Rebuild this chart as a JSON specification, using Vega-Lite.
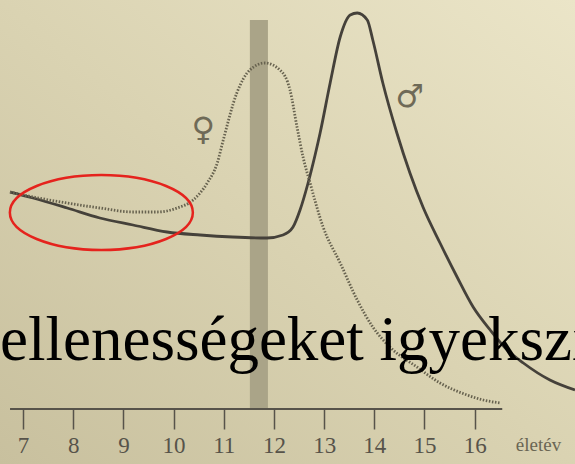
{
  "$schema": "https://vega.github.io/schema/vega-lite/v6.json",
  "width": 575,
  "height": 464,
  "padding": 0,
  "autosize": {"type": "none"},
  "background": "#d9d2b1",
  "config": {"view": {"stroke": null}},
  "layer": [
    {
      "data": {"values": [{"x0": 6.54, "x1": 18.0, "y0": -55, "y1": 409}]},
      "mark": {
        "type": "rect",
        "color": {
          "gradient": "linear",
          "x1": 0, "y1": 1, "x2": 1, "y2": 0,
          "stops": [
            {"offset": 0, "color": "#c8c09e"},
            {"offset": 0.5, "color": "#dad3b2"},
            {"offset": 1, "color": "#ebe5c8"}
          ]
        }
      },
      "encoding": {
        "x": {
          "field": "x0",
          "type": "quantitative",
          "scale": {"domain": [6.54, 18.0], "nice": false, "zero": false},
          "axis": {
            "values": [7, 8, 9, 10, 11, 12, 13, 14, 15, 16],
            "format": "d",
            "domain": false,
            "grid": false,
            "zindex": 1,
            "offset": -55,
            "tickSize": 20,
            "tickWidth": 1.5,
            "tickColor": "#57534a",
            "labelFont": "Liberation Serif",
            "labelFontSize": 23,
            "labelColor": "#57534a",
            "labelPadding": 5,
            "labelFlush": false,
            "labelOverlap": false,
            "title": "életév",
            "titleX": 538,
            "titleY": 41,
            "titleAngle": 0,
            "titleAlign": "center",
            "titleBaseline": "alphabetic",
            "titleFont": "Liberation Serif",
            "titleFontSize": 19,
            "titleFontWeight": "normal",
            "titleColor": "#6a6654"
          }
        },
        "x2": {"field": "x1"},
        "y": {
          "field": "y1",
          "type": "quantitative",
          "scale": {"domain": [-55, 409], "nice": false, "zero": false},
          "axis": null
        },
        "y2": {"field": "y0"}
      }
    },
    {
      "data": {"values": [{"start": 11.52, "end": 11.88, "top": 389, "bottom": 0}]},
      "mark": {"type": "rect", "color": "#aaa488"},
      "encoding": {
        "x": {"field": "start", "type": "quantitative"},
        "x2": {"field": "end"},
        "y": {"field": "top", "type": "quantitative", "axis": null},
        "y2": {"field": "bottom"}
      }
    },
    {
      "data": {"values": [{"from": 6.74, "to": 16.55, "level": 0}]},
      "mark": {"type": "rule", "color": "#57534a", "strokeWidth": 2},
      "encoding": {
        "x": {"field": "from", "type": "quantitative"},
        "x2": {"field": "to"},
        "y": {"field": "level", "type": "quantitative", "axis": null}
      }
    },
    {
      "data": {"values": [
        {"age": 6.74, "value": 217}, {"age": 7.20, "value": 211}, {"age": 7.88, "value": 201},
        {"age": 8.53, "value": 191}, {"age": 9.19, "value": 184}, {"age": 9.87, "value": 177},
        {"age": 10.53, "value": 174}, {"age": 11.18, "value": 172}, {"age": 11.86, "value": 171},
        {"age": 12.18, "value": 174}, {"age": 12.38, "value": 182}, {"age": 12.52, "value": 199},
        {"age": 12.68, "value": 226}, {"age": 12.82, "value": 254}, {"age": 12.92, "value": 276},
        {"age": 13.12, "value": 326}, {"age": 13.32, "value": 372}, {"age": 13.52, "value": 394},
        {"age": 13.66, "value": 396}, {"age": 13.86, "value": 389}, {"age": 13.97, "value": 369},
        {"age": 14.17, "value": 326}, {"age": 14.45, "value": 276}, {"age": 14.71, "value": 236},
        {"age": 14.97, "value": 202}, {"age": 15.31, "value": 166}, {"age": 15.65, "value": 132},
        {"age": 15.97, "value": 102}, {"age": 16.31, "value": 79}, {"age": 16.65, "value": 59},
        {"age": 16.97, "value": 46}, {"age": 17.50, "value": 29}, {"age": 18.00, "value": 19}
      ]},
      "mark": {"type": "line", "interpolate": "monotone", "strokeWidth": 2.8, "color": "#45413a"},
      "encoding": {
        "x": {"field": "age", "type": "quantitative"},
        "y": {"field": "value", "type": "quantitative", "axis": null}
      }
    },
    {
      "data": {"values": [
        {"age": 6.74, "value": 217}, {"age": 7.20, "value": 212}, {"age": 7.88, "value": 206},
        {"age": 8.53, "value": 201}, {"age": 9.19, "value": 197}, {"age": 9.67, "value": 197},
        {"age": 10.07, "value": 201}, {"age": 10.39, "value": 209}, {"age": 10.67, "value": 226},
        {"age": 10.87, "value": 246}, {"age": 10.99, "value": 269}, {"age": 11.26, "value": 316},
        {"age": 11.52, "value": 339}, {"age": 11.82, "value": 346}, {"age": 12.12, "value": 339},
        {"age": 12.32, "value": 319}, {"age": 12.46, "value": 282}, {"age": 12.58, "value": 252},
        {"age": 12.72, "value": 226}, {"age": 12.98, "value": 182}, {"age": 13.32, "value": 146},
        {"age": 13.66, "value": 109}, {"age": 13.97, "value": 82}, {"age": 14.31, "value": 62},
        {"age": 14.85, "value": 42}, {"age": 15.31, "value": 26}, {"age": 15.85, "value": 14},
        {"age": 16.17, "value": 9}, {"age": 16.51, "value": 6}
      ]},
      "mark": {"type": "line", "interpolate": "monotone", "strokeWidth": 2.8, "color": "#67624f", "strokeDash": [1.5, 1.6]},
      "encoding": {
        "x": {"field": "age", "type": "quantitative"},
        "y": {"field": "value", "type": "quantitative", "axis": null}
      }
    },
    {
      "data": {"values": [
        {"age": 10.59, "value": 279, "symbol": "♀"},
        {"age": 14.71, "value": 312, "symbol": "♂"}
      ]},
      "mark": {"type": "text", "font": "DejaVu Sans", "fontSize": 32, "color": "#6f6a57", "align": "center", "baseline": "middle"},
      "encoding": {
        "x": {"field": "age", "type": "quantitative"},
        "y": {"field": "value", "type": "quantitative", "axis": null},
        "text": {"field": "symbol", "type": "nominal"}
      }
    },
    {
      "data": {"values": [{"age": 8.56, "value": 196.5}]},
      "mark": {
        "type": "point",
        "shape": "M -1 0 A 1 0.41 0 1 0 1 0 A 1 0.41 0 1 0 -1 0 Z",
        "size": 33489,
        "filled": false,
        "stroke": "#e5231d",
        "strokeWidth": 2.5,
        "opacity": 1
      },
      "encoding": {
        "x": {"field": "age", "type": "quantitative"},
        "y": {"field": "value", "type": "quantitative", "axis": null}
      }
    },
    {
      "data": {"values": [{"age": 6.54, "value": 49, "text": "ellenességeket igyekszik"}]},
      "mark": {"type": "text", "font": "Liberation Serif", "fontSize": 63, "color": "#000000", "align": "left", "baseline": "alphabetic"},
      "encoding": {
        "x": {"field": "age", "type": "quantitative"},
        "y": {"field": "value", "type": "quantitative", "axis": null},
        "text": {"field": "text", "type": "nominal"}
      }
    }
  ]
}
